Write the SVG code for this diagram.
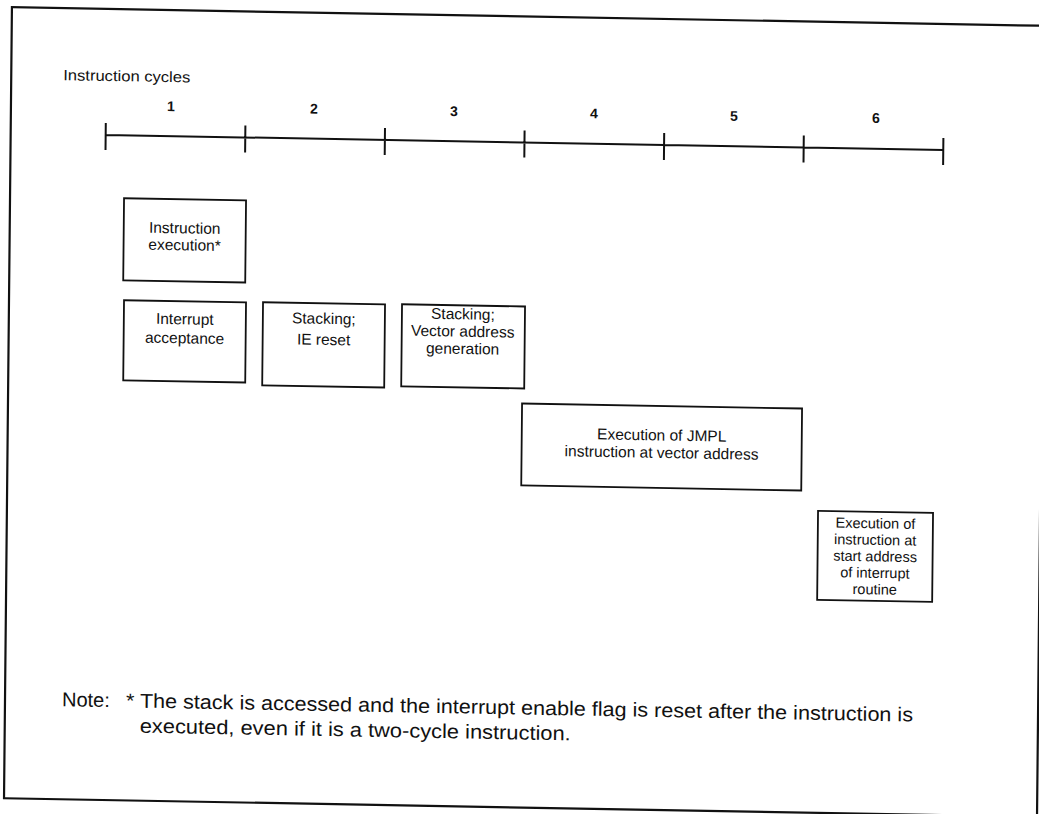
<svg xmlns="http://www.w3.org/2000/svg" width="1039" height="814" viewBox="0 0 1039 814">
<style>
  .frame{fill:none;stroke:#111;stroke-width:2.2}
  .box{fill:#fff;stroke:#111;stroke-width:1.8}
  .axis{fill:none;stroke:#111;stroke-width:2}
  .t{font-family:"Liberation Sans",Arial,Helvetica,sans-serif;fill:#111}
  .bx{font-size:15.5px;text-anchor:middle}
  .bf{font-size:14.5px;text-anchor:middle}
  .num{font-size:14px;font-weight:bold;text-anchor:middle}
  .hdr{font-size:15px}
  .note{font-size:20px}
</style>
<rect width="1039" height="814" fill="#fff"/>
<g transform="matrix(1,0.018,-0.010,1,0,0)">
  <rect class="frame" x="12" y="7" width="1033" height="791"/>
  <g id="timeline">
    <text class="t hdr" x="64" y="79" textLength="127" lengthAdjust="spacingAndGlyphs">Instruction cycles</text>
    <path class="axis" d="M107,133 H944.6 M107,121 V148 M246.6,121 V148 M386.2,121 V148 M525.8,121 V148 M665.4,121 V148 M805,121 V148 M944.6,121 V148"/>
    <text class="t num" x="172" y="108">1</text>
    <text class="t num" x="315" y="108">2</text>
    <text class="t num" x="455" y="108">3</text>
    <text class="t num" x="595" y="107.5">4</text>
    <text class="t num" x="735" y="107.5">5</text>
    <text class="t num" x="877" y="107">6</text>
  </g>
  <g id="connectors"></g>
  <g id="node-instruction-execution">
    <rect class="box" x="126" y="196" width="122" height="82"/>
    <text class="t bx" x="187" y="230">Instruction</text>
    <text class="t bx" x="187" y="247">execution*</text>
  </g>
  <g id="node-interrupt-acceptance">
    <rect class="box" x="127" y="298" width="122" height="80"/>
    <text class="t bx" x="188" y="321">Interrupt</text>
    <text class="t bx" x="188" y="340">acceptance</text>
  </g>
  <g id="node-stacking-ie-reset">
    <rect class="box" x="266" y="297.5" width="122" height="83"/>
    <text class="t bx" x="327" y="318">Stacking;</text>
    <text class="t bx" x="327" y="339">IE reset</text>
  </g>
  <g id="node-stacking-vector">
    <rect class="box" x="405" y="297" width="123" height="82"/>
    <text class="t bx" x="466" y="311">Stacking;</text>
    <text class="t bx" x="466" y="328.3">Vector address</text>
    <text class="t bx" x="466" y="345.6">generation</text>
  </g>
  <g id="node-jmpl">
    <rect class="box" x="526" y="394" width="280" height="82"/>
    <text class="t bx" x="666" y="428.5">Execution of JMPL</text>
    <text class="t bx" x="666" y="446">instruction at vector address</text>
  </g>
  <g id="node-interrupt-routine">
    <rect class="box" x="823" y="496" width="115" height="89"/>
    <text class="t bf" x="880.5" y="512.5">Execution of</text>
    <text class="t bf" x="880.5" y="529">instruction at</text>
    <text class="t bf" x="880.5" y="545.5">start address</text>
    <text class="t bf" x="880.5" y="562">of interrupt</text>
    <text class="t bf" x="880.5" y="578.5">routine</text>
  </g>
  <g id="note">
    <text class="t note" x="69" y="705">Note:</text>
    <text class="t note" x="133" y="705" textLength="787" lengthAdjust="spacingAndGlyphs">* The stack is accessed and the interrupt enable flag is reset after the instruction is</text>
    <text class="t note" x="147" y="730" textLength="431" lengthAdjust="spacingAndGlyphs">executed, even if it is a two-cycle instruction.</text>
  </g>
</g>
</svg>
